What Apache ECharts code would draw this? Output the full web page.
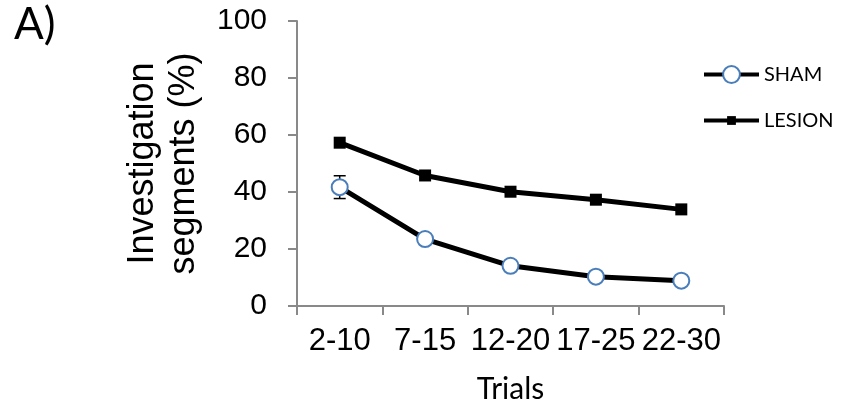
<!DOCTYPE html>
<html>
<head>
<meta charset="utf-8">
<script src="https://cdn.jsdelivr.net/npm/echarts@6/dist/echarts.min.js"></script>
<style>
html,body{margin:0;padding:0;background:#fff;}
#chart{width:844px;height:401px;}
</style>
</head>
<body>
<div id="chart"></div>
<script>
const categories = ['2-10', '7-15', '12-20', '17-25', '22-30'];
const shamValues = [41.7, 23.5, 14.1, 10.3, 8.9];
const lesionValues = [57.3, 45.8, 40.1, 37.3, 33.9];
// error bars: [categoryIndex, low, high]
const shamErrors = [[0, 37.7, 45.7]];

const chart = echarts.init(document.getElementById('chart'), null, {renderer: 'canvas'});
const axisGray = '#898989';
const option = {
  animation: false,
  backgroundColor: '#ffffff',
  title: {
    text: 'A)',
    left: 14,
    top: 3,
    padding: 0,
    textStyle: {fontFamily: 'Lato', fontSize: 44, fontWeight: 'normal', color: '#000'}
  },
  legend: [
    {
      data: ['SHAM'],
      left: 702, top: 64.5,
      padding: 0,
      itemWidth: 55, itemHeight: 21,
      lineStyle: {width: 4, color: '#000'},
      textStyle: {fontFamily: 'Lato', fontSize: 20, color: '#000'}
    },
    {
      data: ['LESION'],
      left: 702, top: 110.5,
      padding: 0,
      itemWidth: 55, itemHeight: 11,
      lineStyle: {width: 4, color: '#000'},
      textStyle: {fontFamily: 'Lato', fontSize: 20, color: '#000'}
    }
  ],
  grid: {left: 297, right: 120, top: 21, bottom: 95, containLabel: false, outerBoundsMode: 'none'},
  xAxis: {
    type: 'category',
    data: categories,
    boundaryGap: true,
    name: 'Trials',
    nameLocation: 'middle',
    nameGap: 68,
    nameTextStyle: {fontFamily: 'Lato', fontSize: 30, color: '#000'},
    axisLine: {lineStyle: {color: axisGray, width: 2}},
    axisTick: {show: true, length: 9, lineStyle: {color: axisGray, width: 2}},
    axisLabel: {fontFamily: 'Liberation Sans', fontSize: 31, color: '#000', margin: 20, interval: 0},
    splitLine: {show: false}
  },
  yAxis: {
    type: 'value',
    min: 0, max: 100, interval: 20,
    name: 'Investigation\nsegments (%)',
    nameLocation: 'middle',
    nameGap: 92,
    nameRotate: 90,
    nameTextStyle: {fontFamily: 'Liberation Sans', fontSize: 36, color: '#000', lineHeight: 41},
    axisLine: {show: true, lineStyle: {color: axisGray, width: 2}},
    axisTick: {show: true, length: 9, lineStyle: {color: axisGray, width: 2}},
    axisLabel: {fontFamily: 'Liberation Sans', fontSize: 30, color: '#000', margin: 30},
    splitLine: {show: false}
  },
  series: [
    {
      name: 'SHAM-err',
      type: 'custom',
      z: 1,
      data: shamErrors,
      renderItem: function (params, api) {
        const x = api.value(0);
        const lo = api.coord([x, api.value(1)]);
        const hi = api.coord([x, api.value(2)]);
        const hw = 6;
        const st = {stroke: '#000', lineWidth: 1.5};
        return {
          type: 'group',
          children: [
            {type: 'line', shape: {x1: lo[0], y1: lo[1], x2: hi[0], y2: hi[1]}, style: st},
            {type: 'line', shape: {x1: lo[0] - hw, y1: lo[1], x2: lo[0] + hw, y2: lo[1]}, style: st},
            {type: 'line', shape: {x1: hi[0] - hw, y1: hi[1], x2: hi[0] + hw, y2: hi[1]}, style: st}
          ]
        };
      }
    },
    {
      name: 'SHAM',
      type: 'line',
      z: 3,
      data: shamValues,
      symbol: 'circle',
      symbolSize: 16,
      showAllSymbol: true,
      lineStyle: {color: '#000', width: 5},
      itemStyle: {color: '#ffffff', borderColor: '#4a7ebb', borderWidth: 2}
    },
    {
      name: 'LESION',
      type: 'line',
      z: 3,
      data: lesionValues,
      symbol: 'rect',
      symbolSize: 12,
      showAllSymbol: true,
      lineStyle: {color: '#000', width: 5},
      itemStyle: {color: '#000'}
    }
  ]
};
chart.setOption(option);
</script>
</body>
</html>
